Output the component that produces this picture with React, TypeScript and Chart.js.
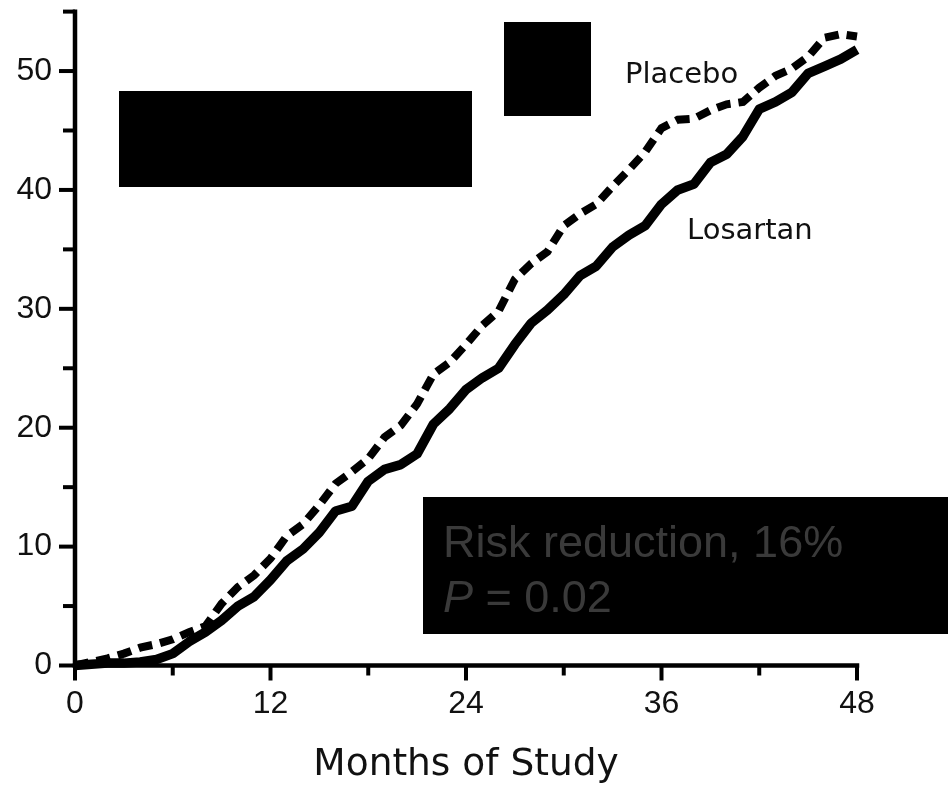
import React, { useEffect, useRef } from 'react';
import { Chart, registerables } from 'chart.js';

Chart.register(...registerables);

// ---- data ----
const months = [
  0, 1, 2, 3, 4, 5, 6, 7, 8, 9, 10, 11, 12, 13, 14, 15, 16, 17, 18, 19, 20, 21, 22, 23, 24,
  25, 26, 27, 28, 29, 30, 31, 32, 33, 34, 35, 36, 37, 38, 39, 40, 41, 42, 43, 44, 45, 46, 47, 48,
];
const placebo = [
  0, 0.3, 0.6, 1.0, 1.5, 1.8, 2.2, 2.8, 3.3, 5.2, 6.6, 7.6, 9.0, 10.9, 11.9, 13.5, 15.3, 16.3,
  17.4, 19.2, 20.2, 22.0, 24.5, 25.5, 27.0, 28.6, 29.8, 32.5, 33.8, 34.8, 37.0, 38.0, 38.8, 40.3,
  41.7, 43.2, 45.2, 45.9, 46.0, 46.7, 47.2, 47.4, 48.6, 49.6, 50.2, 51.2, 52.8, 53.1, 52.9,
];
const losartan = [
  0, 0.1, 0.2, 0.2, 0.3, 0.5, 1.0, 2.0, 2.8, 3.8, 5.0, 5.8, 7.2, 8.8, 9.8, 11.2, 13.0, 13.4,
  15.5, 16.5, 16.9, 17.8, 20.3, 21.6, 23.2, 24.2, 25.0, 27.0, 28.8, 29.9, 31.2, 32.8, 33.6, 35.2,
  36.2, 37.0, 38.8, 40.0, 40.5, 42.3, 43.0, 44.5, 46.8, 47.4, 48.2, 49.8, 50.4, 51.0, 51.8,
];
const seriesNames = ['Placebo', 'Losartan'];
const xTickLabels = ['0', '12', '24', '36', '48'];
const yTickLabels = ['0', '10', '20', '30', '40', '50'];
const xTitle = 'Months of Study';
const noteLine1 = 'Risk reduction, 16%';
const noteLine2P = 'P';
const noteLine2Rest = ' = 0.02';

const FONT = '"DejaVu Sans", sans-serif';
const TICK_FONT = '"Liberation Sans", Arial, sans-serif';

const axesPlugin = {
  id: 'customAxes',
  beforeDatasetsDraw(chart: any) {
    const { ctx } = chart;
    const xs = chart.scales.x;
    const ys = chart.scales.y;
    const x0 = xs.getPixelForValue(xs.min);
    const x1 = xs.getPixelForValue(xs.max);
    const y0 = ys.getPixelForValue(ys.min);
    const yTop = ys.getPixelForValue(ys.max);
    ctx.save();
    ctx.strokeStyle = '#000';
    ctx.lineCap = 'butt';
    ctx.lineWidth = 4.5;
    ctx.beginPath();
    ctx.moveTo(x0, yTop - 2);
    ctx.lineTo(x0, y0 + 2.25);
    ctx.stroke();
    ctx.beginPath();
    ctx.moveTo(x0 - 2.25, y0);
    ctx.lineTo(x1 + 2.25, y0);
    ctx.stroke();
    ctx.lineWidth = 4;
    ys.ticks.forEach((t: any) => {
      const y = ys.getPixelForValue(t.value);
      const len = t.value % 10 === 0 ? 16 : 12;
      ctx.beginPath();
      ctx.moveTo(x0 - len, y);
      ctx.lineTo(x0, y);
      ctx.stroke();
    });
    xs.ticks.forEach((t: any) => {
      const x = xs.getPixelForValue(t.value);
      const len = t.value % 12 === 0 ? 15 : 10;
      ctx.beginPath();
      ctx.moveTo(x, y0);
      ctx.lineTo(x, y0 + len);
      ctx.stroke();
    });
    ctx.restore();
  },
};

const overlayPlugin = {
  id: 'overlay',
  afterDraw(chart: any) {
    const { ctx } = chart;
    ctx.save();
    // series labels
    ctx.fillStyle = '#111';
    ctx.textBaseline = 'alphabetic';
    ctx.textAlign = 'left';
    ctx.font = `29px ${FONT}`;
    ctx.fillText(seriesNames[0], 625, 83);
    ctx.fillText(seriesNames[1], 687, 239);
    // redaction boxes
    ctx.fillStyle = '#000';
    ctx.fillRect(119, 91, 353, 96);
    ctx.fillRect(504, 22, 87, 94);
    ctx.fillRect(423, 497, 525, 137);
    // note text
    ctx.fillStyle = '#3a3a3a';
    ctx.font = '45px "Liberation Sans", Arial, sans-serif';
    ctx.fillText(noteLine1, 443, 557);
    ctx.font = 'italic 45px "Liberation Sans", Arial, sans-serif';
    ctx.fillText(noteLine2P, 443, 612);
    const w = ctx.measureText(noteLine2P).width;
    ctx.font = '45px "Liberation Sans", Arial, sans-serif';
    ctx.fillText(noteLine2Rest, 443 + w, 612);
    ctx.restore();
  },
};

export default function App() {
  const ref = useRef<HTMLCanvasElement | null>(null);

  useEffect(() => {
    if (!ref.current) return;
    const chart = new Chart(ref.current, {
      type: 'line',
      data: {
        datasets: [
          {
            label: seriesNames[0],
            data: months.map((m, i) => ({ x: m, y: placebo[i] })),
            borderColor: '#000',
            borderWidth: 8,
            borderDash: [14, 8],
            borderCapStyle: 'butt',
            pointRadius: 0,
            tension: 0,
            fill: false,
            clip: false,
          },
          {
            label: seriesNames[1],
            data: months.map((m, i) => ({ x: m, y: losartan[i] })),
            borderColor: '#000',
            borderWidth: 9.5,
            borderJoinStyle: 'round',
            pointRadius: 0,
            tension: 0,
            fill: false,
            clip: false,
          },
        ],
      },
      options: {
        responsive: false,
        animation: false,
        devicePixelRatio: 1,
        layout: { padding: { top: 11.6, right: 91, left: 0, bottom: 0 } },
        plugins: { legend: { display: false }, tooltip: { enabled: false } },
        scales: {
          x: {
            type: 'linear',
            min: 0,
            max: 48,
            afterFit: (s: any) => {
              s.height = 122.5;
              s.paddingLeft = 0;
              s.paddingRight = 0;
            },
            grid: { display: false, drawTicks: false },
            border: { display: false },
            ticks: {
              stepSize: 6,
              autoSkip: false,
              maxRotation: 0,
              padding: 19,
              color: '#111',
              font: { family: TICK_FONT, size: 32 },
              callback: (v: any) => (v % 12 === 0 ? xTickLabels[v / 12] : ''),
            },
            title: {
              display: true,
              text: xTitle,
              color: '#111',
              font: { family: FONT, size: 37.5 },
              padding: { top: 0, bottom: 0 },
            },
          },
          y: {
            type: 'linear',
            min: 0,
            max: 55,
            afterFit: (s: any) => {
              s.width = 75;
              s.paddingTop = 0;
              s.paddingBottom = 0;
            },
            grid: { display: false, drawTicks: false },
            border: { display: false },
            ticks: {
              stepSize: 5,
              autoSkip: false,
              padding: 23,
              color: '#111',
              font: { family: TICK_FONT, size: 32 },
              callback: (v: any) => (v % 10 === 0 ? yTickLabels[v / 10] : ''),
            },
          },
        },
      },
      plugins: [axesPlugin, overlayPlugin],
    } as any);
    return () => chart.destroy();
  }, []);

  return (
    <div style={{ position: 'absolute', left: 0, top: 0, width: 948, height: 788, background: '#fff' }}>
      <canvas ref={ref} width={948} height={788} style={{ display: 'block' }} />
    </div>
  );
}
